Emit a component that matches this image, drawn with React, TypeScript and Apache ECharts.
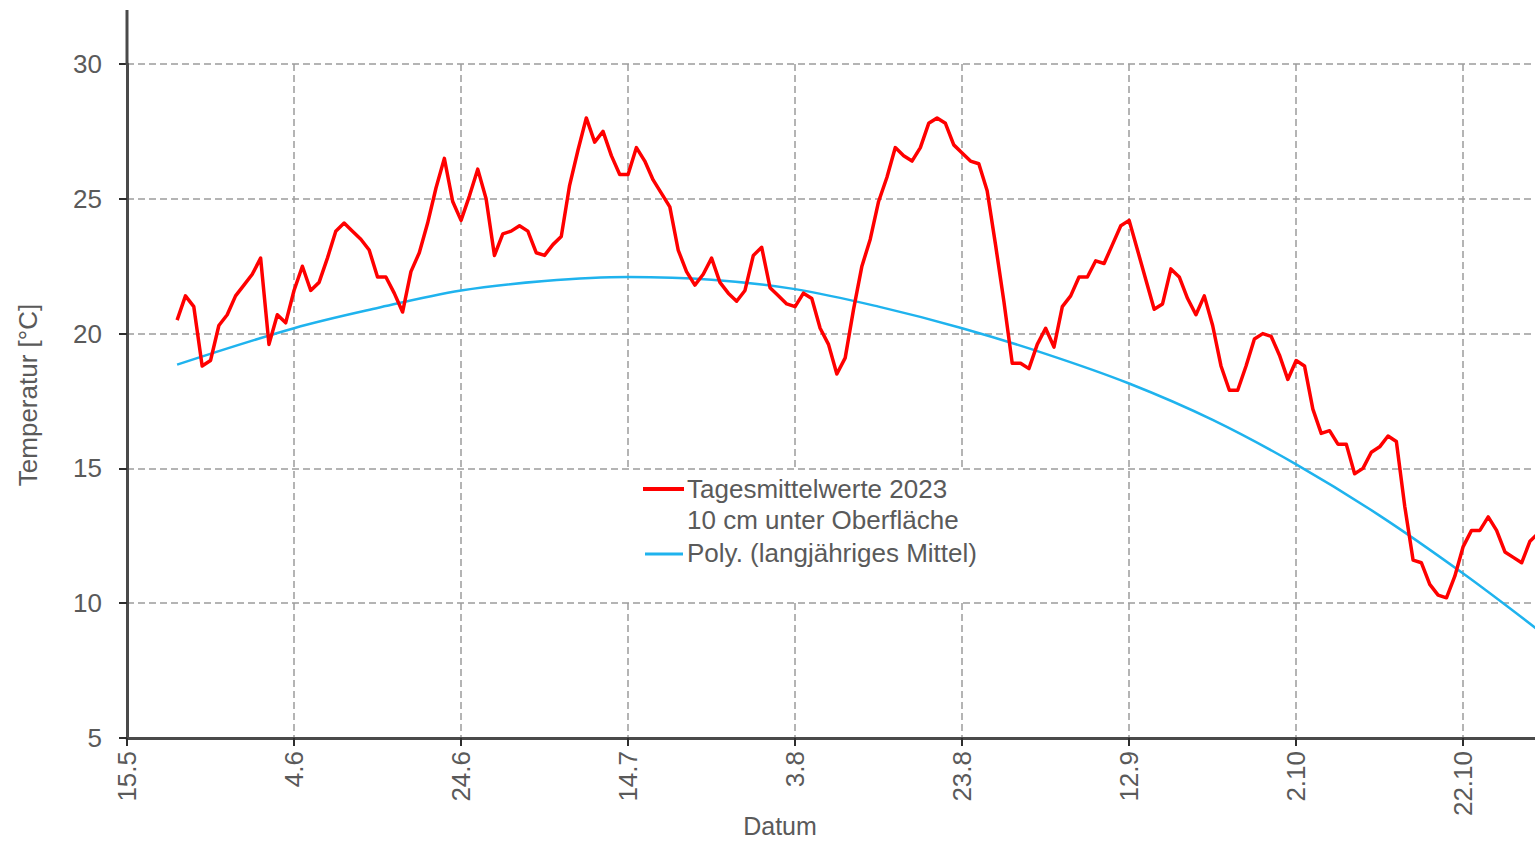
import React, { useEffect, useRef } from "react";
import * as echarts from "echarts";

// Day offsets are counted from 15 May 2023 (day 0).
const firstDay = 6;

// Daily mean soil temperature 2023, 10 cm below the surface (°C), from day 6 onward
const dailyMeans = [
  20.5, 21.4, 21.0, 18.8, 19.0, 20.3, 20.7, 21.4, 21.8, 22.2,
  22.8, 19.6, 20.7, 20.4, 21.6, 22.5, 21.6, 21.9, 22.8, 23.8,
  24.1, 23.8, 23.5, 23.1, 22.1, 22.1, 21.5, 20.8, 22.3, 23.0,
  24.1, 25.4, 26.5, 24.9, 24.2, 25.1, 26.1, 25.0, 22.9, 23.7,
  23.8, 24.0, 23.8, 23.0, 22.9, 23.3, 23.6, 25.5, 26.8, 28.0,
  27.1, 27.5, 26.6, 25.9, 25.9, 26.9, 26.4, 25.7, 25.2, 24.7,
  23.1, 22.3, 21.8, 22.2, 22.8, 21.9, 21.5, 21.2, 21.6, 22.9,
  23.2, 21.7, 21.4, 21.1, 21.0, 21.5, 21.3, 20.2, 19.6, 18.5,
  19.1, 20.9, 22.5, 23.5, 24.9, 25.8, 26.9, 26.6, 26.4, 26.9,
  27.8, 28.0, 27.8, 27.0, 26.7, 26.4, 26.3, 25.3, 23.3, 21.2,
  18.9, 18.9, 18.7, 19.6, 20.2, 19.5, 21.0, 21.4, 22.1, 22.1,
  22.7, 22.6, 23.3, 24.0, 24.2, 23.1, 22.0, 20.9, 21.1, 22.4,
  22.1, 21.3, 20.7, 21.4, 20.3, 18.8, 17.9, 17.9, 18.8, 19.8,
  20.0, 19.9, 19.2, 18.3, 19.0, 18.8, 17.2, 16.3, 16.4, 15.9,
  15.9, 14.8, 15.0, 15.6, 15.8, 16.2, 16.0, 13.6, 11.6, 11.5,
  10.7, 10.3, 10.2, 11.0, 12.1, 12.7, 12.7, 13.2, 12.7, 11.9,
  11.7, 11.5, 12.3, 12.6,
];

// Long-term mean (polynomial trend), read at these days
const trendDays = [6, 20, 30, 40, 50, 60, 70, 80, 90, 100, 110, 120, 130, 140, 150, 160, 169];
const trendValues = [18.85, 20.2, 20.95, 21.6, 21.95, 22.1, 22.0, 21.65, 21.0, 20.2, 19.25, 18.15, 16.8, 15.15, 13.25, 11.1, 9.0];

// Date labels on the x axis, one every 20 days
const xTickLabels = ["15.5", "4.6", "24.6", "14.7", "3.8", "23.8", "12.9", "2.10", "22.10"];

const yTicks = [5, 10, 15, 20, 25, 30];

const FONT = "'Liberation Sans', Arial, sans-serif";
const TEXT = "#5a5a5a";
const AXIS = "#4a4a4a";
const GRIDLINE = "#9c9c9c";
const RED = "#ff0000";
const BLUE = "#1fb3ee";

export default function App() {
  const ref = useRef<HTMLDivElement>(null);

  useEffect(() => {
    if (!ref.current) return;
    const chart = echarts.init(ref.current, undefined, { renderer: "svg" });

    const redData = dailyMeans.map((v, i) => [firstDay + i, v]);
    const blueData = trendDays.map((d, i) => [d, trendValues[i]]);

    const option = {
      animation: false,
      backgroundColor: "#ffffff",
      textStyle: { fontFamily: FONT },
      grid: { left: 127, right: 0, top: 64, bottom: 104 },
      xAxis: {
        type: "value",
        min: 0,
        max: 168.6,
        interval: 20,
        axisLine: { show: true, onZero: false, lineStyle: { color: AXIS, width: 3 } },
        axisTick: { show: true, length: 8, lineStyle: { color: "#2e2e2e", width: 2 } },
        axisLabel: {
          rotate: 90,
          margin: 13,
          fontSize: 26,
          color: TEXT,
          fontFamily: FONT,
          showMaxLabel: false,
          formatter: (v: number) => {
            const idx = Math.round(v / 20);
            if (Math.abs(v - idx * 20) > 1e-6) return "";
            return xTickLabels[idx] ?? "";
          },
        },
        splitLine: {
          show: true,
          showMinLine: false,
          showMaxLine: false,
          lineStyle: { color: GRIDLINE, width: 1.5, type: [7, 4] },
        },
      },
      yAxis: {
        type: "value",
        min: yTicks[0],
        max: yTicks[yTicks.length - 1],
        interval: 5,
        axisLine: { show: true, lineStyle: { color: AXIS, width: 3 } },
        axisTick: { show: true, length: 8, lineStyle: { color: "#2e2e2e", width: 2 } },
        axisLabel: { margin: 25, fontSize: 26, color: TEXT, fontFamily: FONT },
        splitLine: {
          show: true,
          showMinLine: false,
          lineStyle: { color: GRIDLINE, width: 1.5, type: [7, 4] },
        },
      },
      graphic: [
        // vertical axis continues above the top tick
        {
          type: "line",
          z: 5,
          shape: { x1: 127, y1: 10, x2: 127, y2: 65 },
          style: { stroke: AXIS, lineWidth: 3 },
        },
        // legend box
        {
          type: "rect",
          z: 1,
          shape: { x: 595, y: 471, width: 420, height: 131 },
          style: { fill: "#ffffff" },
        },
        {
          type: "line",
          z: 6,
          shape: { x1: 643, y1: 489, x2: 684, y2: 489 },
          style: { stroke: RED, lineWidth: 4 },
        },
        {
          type: "text",
          z: 6,
          x: 687,
          y: 489,
          style: { text: "Tagesmittelwerte 2023", fontSize: 26, fontFamily: FONT, fill: TEXT, verticalAlign: "middle" },
        },
        {
          type: "text",
          z: 6,
          x: 687,
          y: 520,
          style: { text: "10 cm unter Oberfläche", fontSize: 26, fontFamily: FONT, fill: TEXT, verticalAlign: "middle" },
        },
        {
          type: "line",
          z: 6,
          shape: { x1: 645, y1: 554, x2: 683, y2: 554 },
          style: { stroke: BLUE, lineWidth: 3 },
        },
        {
          type: "text",
          z: 6,
          x: 687,
          y: 553,
          style: { text: "Poly. (langjähriges Mittel)", fontSize: 26, fontFamily: FONT, fill: TEXT, verticalAlign: "middle" },
        },
        // axis titles
        {
          type: "text",
          z: 6,
          x: 28,
          y: 395,
          rotation: Math.PI / 2,
          style: { text: "Temperatur [°C]", fontSize: 26, fontFamily: FONT, fill: TEXT, align: "center", verticalAlign: "middle" },
        },
        {
          type: "text",
          z: 6,
          x: 780,
          y: 826,
          style: { text: "Datum", fontSize: 25, fontFamily: FONT, fill: TEXT, align: "center", verticalAlign: "middle" },
        },
      ],
      series: [
        {
          name: "Tagesmittelwerte 2023 10 cm unter Oberfläche",
          type: "line",
          data: redData,
          showSymbol: false,
          z: 4,
          lineStyle: { color: RED, width: 3.5, join: "round" },
          itemStyle: { color: RED },
        },
        {
          name: "Poly. (langjähriges Mittel)",
          type: "line",
          data: blueData,
          smooth: 0.35,
          showSymbol: false,
          z: 3,
          lineStyle: { color: BLUE, width: 2.5 },
          itemStyle: { color: BLUE },
        },
      ],
    };

    chart.setOption(option as any);
    return () => chart.dispose();
  }, []);

  return (
    <div
      ref={ref}
      style={{ position: "fixed", left: 0, top: 0, width: 1535, height: 842, background: "#fff" }}
    />
  );
}
